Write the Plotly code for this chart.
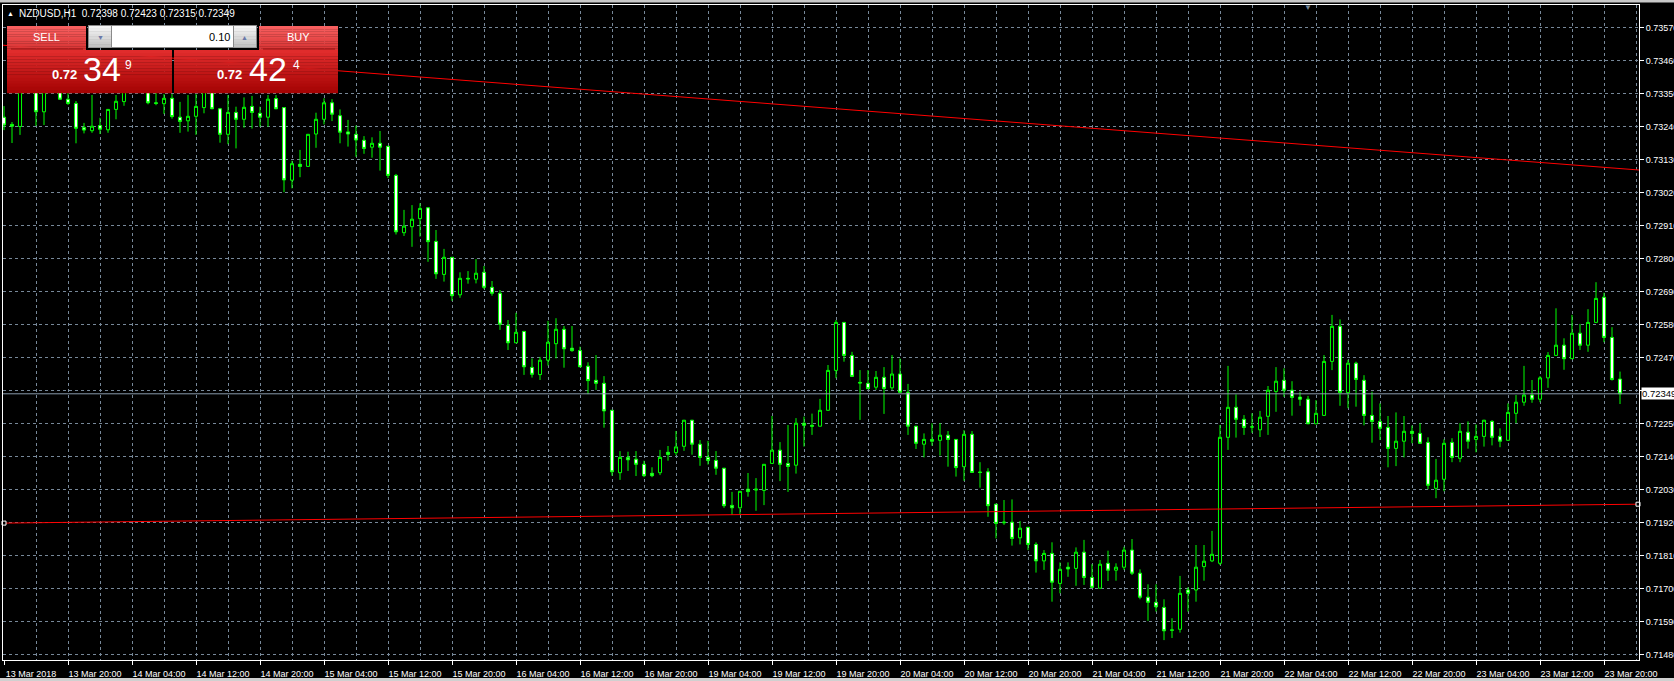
import plotly.graph_objects as go

# ---------------- data ----------------
symbol_header = "NZDUSD,H1&nbsp;&nbsp;0.72398 0.72423 0.72315 0.72349"

opens = [0.73271, 0.73247, 0.73240, 0.73369, 0.73385, 0.73289, 0.73375, 0.73385, 0.73331, 0.73317,
         0.73237, 0.73226, 0.73243, 0.73229, 0.73297, 0.73323, 0.73365, 0.73380, 0.73370, 0.73319,
         0.73316, 0.73334, 0.73271, 0.73259, 0.73274, 0.73303, 0.73360, 0.73299, 0.73214, 0.73287,
         0.73264, 0.73307, 0.73284, 0.73271, 0.73333, 0.73303, 0.73061, 0.73114, 0.73107, 0.73215,
         0.73264, 0.73319, 0.73276, 0.73222, 0.73214, 0.73194, 0.73171, 0.73184, 0.73174, 0.73077,
         0.72886, 0.72906, 0.72933, 0.72969, 0.72857, 0.72747, 0.72804, 0.72679, 0.72734, 0.72731,
         0.72754, 0.72704, 0.72684, 0.72577, 0.72519, 0.72557, 0.72437, 0.72413, 0.72461, 0.72516,
         0.72564, 0.72501, 0.72493, 0.72441, 0.72394, 0.72384, 0.72294, 0.72086, 0.72137, 0.72131,
         0.72114, 0.72084, 0.72086, 0.72154, 0.72153, 0.72174, 0.72261, 0.72181, 0.72137, 0.72127,
         0.72101, 0.71977, 0.71969, 0.72031, 0.72028, 0.72027, 0.72117, 0.72161, 0.72117, 0.72111,
         0.72251, 0.72244, 0.72241, 0.72294, 0.72427, 0.72587, 0.72477, 0.72387, 0.72384, 0.72371,
         0.72404, 0.72369, 0.72415, 0.72354, 0.72241, 0.72181, 0.72197, 0.72194, 0.72211, 0.72197,
         0.72106, 0.72214, 0.72088, 0.72089, 0.71981, 0.71919, 0.71921, 0.71869, 0.71904, 0.71847,
         0.71792, 0.71817, 0.71717, 0.71771, 0.71767, 0.71821, 0.71737, 0.71701, 0.71784, 0.71761,
         0.71771, 0.71828, 0.71751, 0.71671, 0.71654, 0.71637, 0.71562, 0.71564, 0.71695, 0.71695,
         0.71773, 0.71792, 0.71784, 0.72204, 0.72304, 0.72264, 0.72239, 0.72229, 0.72274, 0.72357,
         0.72394, 0.72361, 0.72338, 0.72331, 0.72249, 0.72277, 0.72457, 0.72574, 0.72353, 0.72451,
         0.72394, 0.72277, 0.72257, 0.72237, 0.72167, 0.72191, 0.72224, 0.72217, 0.72187, 0.72034,
         0.72064, 0.72187, 0.72134, 0.72221, 0.72197, 0.72207, 0.72257, 0.72207, 0.72194, 0.72284,
         0.72321, 0.72345, 0.72331, 0.72402, 0.72477, 0.72511, 0.72466, 0.72551, 0.72511, 0.72587,
         0.72671, 0.72537, 0.72398]

highs = [0.73308, 0.73255, 0.73389, 0.73400, 0.73400, 0.73395, 0.73410, 0.73400, 0.73352, 0.73325,
         0.73252, 0.73345, 0.73269, 0.73298, 0.73345, 0.73385, 0.73400, 0.73410, 0.73385, 0.73352,
         0.73348, 0.73348, 0.73322, 0.73345, 0.73348, 0.73375, 0.73370, 0.73302, 0.73345, 0.73306,
         0.73337, 0.73342, 0.73306, 0.73345, 0.73345, 0.73304, 0.73126, 0.73162, 0.73215, 0.73286,
         0.73334, 0.73331, 0.73297, 0.73262, 0.73243, 0.73208, 0.73204, 0.73225, 0.73175, 0.73082,
         0.72962, 0.72978, 0.72984, 0.72970, 0.72895, 0.72832, 0.72805, 0.72754, 0.72758, 0.72798,
         0.72775, 0.72725, 0.72695, 0.72595, 0.72619, 0.72558, 0.72467, 0.72472, 0.72592, 0.72601,
         0.72575, 0.72575, 0.72506, 0.72454, 0.72478, 0.72408, 0.72295, 0.72158, 0.72156, 0.72158,
         0.72126, 0.72104, 0.72162, 0.72175, 0.72225, 0.72261, 0.72262, 0.72195, 0.72192, 0.72158,
         0.72102, 0.72022, 0.72025, 0.72085, 0.72068, 0.72115, 0.72275, 0.72188, 0.72245, 0.72268,
         0.72273, 0.72283, 0.72332, 0.72445, 0.72595, 0.72588, 0.72489, 0.72428, 0.72428, 0.72425,
         0.72438, 0.72478, 0.72467, 0.72382, 0.72242, 0.72217, 0.72251, 0.72251, 0.72225, 0.72198,
         0.72228, 0.72225, 0.72121, 0.72101, 0.71982, 0.71995, 0.71997, 0.71925, 0.71905, 0.71854,
         0.71828, 0.71854, 0.71787, 0.71787, 0.71837, 0.71862, 0.71781, 0.71795, 0.71826, 0.71784,
         0.71839, 0.71865, 0.71764, 0.71714, 0.71714, 0.71664, 0.71601, 0.71742, 0.71704, 0.71845,
         0.71845, 0.71892, 0.72245, 0.72442, 0.72347, 0.72278, 0.72284, 0.72292, 0.72375, 0.72438,
         0.72434, 0.72391, 0.72356, 0.72342, 0.72328, 0.72478, 0.72612, 0.72597, 0.72462, 0.72456,
         0.72411, 0.72356, 0.72317, 0.72275, 0.72287, 0.72275, 0.72243, 0.72251, 0.72204, 0.72132,
         0.72197, 0.72201, 0.72251, 0.72257, 0.72247, 0.72262, 0.72261, 0.72234, 0.72317, 0.72345,
         0.72442, 0.72395, 0.72408, 0.72488, 0.72634, 0.72534, 0.72612, 0.72582, 0.72631, 0.72721,
         0.72686, 0.72571, 0.72423]

lows = [0.73228, 0.73185, 0.73212, 0.73355, 0.73242, 0.73245, 0.73360, 0.73330, 0.73312, 0.73184,
        0.73217, 0.73219, 0.73215, 0.73219, 0.73264, 0.73309, 0.73355, 0.73360, 0.73314, 0.73311,
        0.73282, 0.73266, 0.73219, 0.73223, 0.73212, 0.73284, 0.73298, 0.73186, 0.73181, 0.73167,
        0.73236, 0.73233, 0.73239, 0.73239, 0.73298, 0.73021, 0.73034, 0.73071, 0.73106, 0.73169,
        0.73247, 0.73258, 0.73184, 0.73173, 0.73139, 0.73149, 0.73136, 0.73093, 0.73068, 0.72880,
        0.72875, 0.72839, 0.72873, 0.72789, 0.72732, 0.72723, 0.72659, 0.72669, 0.72716, 0.72717,
        0.72698, 0.72676, 0.72562, 0.72495, 0.72518, 0.72412, 0.72403, 0.72395, 0.72443, 0.72467,
        0.72436, 0.72489, 0.72438, 0.72348, 0.72362, 0.72236, 0.72076, 0.72062, 0.72092, 0.72075,
        0.72071, 0.72071, 0.72078, 0.72126, 0.72144, 0.72159, 0.72146, 0.72109, 0.72113, 0.72079,
        0.71969, 0.71945, 0.71947, 0.72006, 0.71959, 0.71978, 0.72117, 0.72058, 0.72022, 0.72083,
        0.72173, 0.72212, 0.72240, 0.72293, 0.72401, 0.72456, 0.72407, 0.72262, 0.72365, 0.72362,
        0.72282, 0.72362, 0.72353, 0.72212, 0.72165, 0.72137, 0.72176, 0.72143, 0.72106, 0.72073,
        0.72059, 0.72087, 0.72036, 0.71939, 0.71867, 0.71912, 0.71843, 0.71847, 0.71828, 0.71753,
        0.71762, 0.71656, 0.71684, 0.71739, 0.71709, 0.71712, 0.71702, 0.71700, 0.71725, 0.71726,
        0.71762, 0.71745, 0.71664, 0.71592, 0.71623, 0.71528, 0.71535, 0.71553, 0.71623, 0.71656,
        0.71726, 0.71788, 0.71778, 0.72162, 0.72203, 0.72212, 0.72219, 0.72205, 0.72212, 0.72289,
        0.72339, 0.72276, 0.72309, 0.72248, 0.72248, 0.72275, 0.72428, 0.72309, 0.72301, 0.72306,
        0.72244, 0.72186, 0.72195, 0.72104, 0.72108, 0.72137, 0.72184, 0.72182, 0.72031, 0.72001,
        0.72024, 0.72121, 0.72121, 0.72166, 0.72154, 0.72173, 0.72177, 0.72171, 0.72193, 0.72251,
        0.72309, 0.72319, 0.72321, 0.72369, 0.72477, 0.72429, 0.72465, 0.72495, 0.72489, 0.72587,
        0.72521, 0.72393, 0.72315]

closes = [0.73245, 0.73241, 0.73369, 0.73380, 0.73289, 0.73375, 0.73390, 0.73331, 0.73317, 0.73234,
          0.73228, 0.73241, 0.73231, 0.73297, 0.73324, 0.73365, 0.73380, 0.73372, 0.73319, 0.73317,
          0.73334, 0.73273, 0.73257, 0.73274, 0.73307, 0.73360, 0.73299, 0.73214, 0.73287, 0.73264,
          0.73304, 0.73287, 0.73271, 0.73331, 0.73299, 0.73062, 0.73116, 0.73107, 0.73214, 0.73264,
          0.73319, 0.73281, 0.73221, 0.73215, 0.73195, 0.73167, 0.73184, 0.73171, 0.73077, 0.72889,
          0.72908, 0.72931, 0.72967, 0.72856, 0.72749, 0.72804, 0.72676, 0.72734, 0.72732, 0.72751,
          0.72704, 0.72684, 0.72581, 0.72519, 0.72554, 0.72439, 0.72414, 0.72461, 0.72521, 0.72564,
          0.72499, 0.72493, 0.72439, 0.72393, 0.72384, 0.72292, 0.72089, 0.72137, 0.72129, 0.72114,
          0.72076, 0.72076, 0.72137, 0.72147, 0.72172, 0.72261, 0.72181, 0.72137, 0.72127, 0.72101,
          0.71976, 0.71969, 0.72024, 0.72023, 0.72031, 0.72114, 0.72161, 0.72114, 0.72107, 0.72251,
          0.72244, 0.72241, 0.72294, 0.72427, 0.72587, 0.72477, 0.72407, 0.72385, 0.72366, 0.72404,
          0.72367, 0.72415, 0.72354, 0.72241, 0.72184, 0.72197, 0.72191, 0.72211, 0.72197, 0.72103,
          0.72214, 0.72087, 0.72087, 0.71976, 0.71917, 0.71921, 0.71867, 0.71901, 0.71847, 0.71792,
          0.71817, 0.71721, 0.71764, 0.71765, 0.71821, 0.71737, 0.71704, 0.71781, 0.71761, 0.71771,
          0.71828, 0.71751, 0.71671, 0.71654, 0.71639, 0.71559, 0.71561, 0.71684, 0.71684, 0.71771,
          0.71791, 0.71814, 0.72204, 0.72304, 0.72264, 0.72237, 0.72238, 0.72271, 0.72361, 0.72391,
          0.72361, 0.72337, 0.72331, 0.72249, 0.72284, 0.72457, 0.72574, 0.72353, 0.72451, 0.72397,
          0.72277, 0.72257, 0.72234, 0.72167, 0.72191, 0.72224, 0.72217, 0.72184, 0.72044, 0.72061,
          0.72184, 0.72137, 0.72224, 0.72191, 0.72207, 0.72261, 0.72204, 0.72191, 0.72287, 0.72321,
          0.72345, 0.72331, 0.72402, 0.72477, 0.72511, 0.72466, 0.72551, 0.72511, 0.72587, 0.72667,
          0.72537, 0.72397, 0.72349]

time_tick_bars = [0, 8, 16, 24, 32, 40, 48, 56, 64, 72, 80, 88, 96, 104, 112, 120, 128,
                  136, 144, 152, 160, 168, 176, 184, 192, 200]
time_tick_labels = ["13 Mar 2018", "13 Mar 20:00", "14 Mar 04:00", "14 Mar 12:00", "14 Mar 20:00",
                    "15 Mar 04:00", "15 Mar 12:00", "15 Mar 20:00", "16 Mar 04:00", "16 Mar 12:00",
                    "16 Mar 20:00", "19 Mar 04:00", "19 Mar 12:00", "19 Mar 20:00", "20 Mar 04:00",
                    "20 Mar 12:00", "20 Mar 20:00", "21 Mar 04:00", "21 Mar 12:00", "21 Mar 20:00",
                    "22 Mar 04:00", "22 Mar 12:00", "22 Mar 20:00", "23 Mar 04:00", "23 Mar 12:00",
                    "23 Mar 20:00"]

price_ticks = [0.7357, 0.7346, 0.7335, 0.7324, 0.7313, 0.7302, 0.7291, 0.7280, 0.7269, 0.7258,
               0.7247, 0.7236, 0.7225, 0.7214, 0.7203, 0.7192, 0.7181, 0.7170, 0.7159, 0.7148]
# the 0.72360 label is hidden behind the current-price label in the original
price_tick_labels = ["0.73570", "0.73460", "0.73350", "0.73240", "0.73130", "0.73020", "0.72910",
                     "0.72800", "0.72690", "0.72580", "0.72470", "", "0.72250", "0.72140",
                     "0.72030", "0.71920", "0.71810", "0.71700", "0.71590", "0.71480"]

upper_trend_bars = [-0.125, 204.375]
upper_trend_prices = [0.73511, 0.73095]
lower_trend_bars = [0.0, 204.25]
lower_trend_prices = [0.71918, 0.71981]
current_price = 0.72349
current_price_label = "0.72349"

sell_big, sell_small, sell_pip = "0.72", "34", "9"
buy_big, buy_small, buy_pip = "0.72", "42", "4"
lot_size = "0.10"

# ---------------- geometry / style ----------------
W, H = 1674, 681
ML, MR, MT, MB = 3, 35, 5, 21
PW, PH = W - ML - MR, H - MT - MB
FONT = "Liberation Sans, Arial, sans-serif"
GRID = "#778899"
LIME = "#00ff00"


def px(x):
    return (x - ML) / PW


def py(y):
    return 1 - (y - MT) / PH


def mix(c0, c1, t):
    a = [int(c0[i:i + 2], 16) for i in (1, 3, 5)]
    b = [int(c1[i:i + 2], 16) for i in (1, 3, 5)]
    return "#" + "".join("%02x" % round(a[k] + (b[k] - a[k]) * t) for k in range(3))


shapes = []


def rect(x0, y0, x1, y1, fill, line=None, lw=0):
    shapes.append(dict(type="rect", xref="paper", yref="paper", layer="above",
                       x0=px(x0), x1=px(x1), y0=py(y0), y1=py(y1), fillcolor=fill,
                       line=dict(width=lw, color=line or fill)))


def grad_rect(x0, y0, x1, y1, c0, c1, n=14):
    h = (y1 - y0) / n
    for k in range(n):
        rect(x0, y0 + k * h, x1, y0 + (k + 1) * h + 0.3, mix(c0, c1, k / (n - 1)))


def hline(x0, x1, y, color, w=1):
    shapes.append(dict(type="line", xref="paper", yref="paper", layer="above",
                       x0=px(x0), x1=px(x1), y0=py(y), y1=py(y), line=dict(color=color, width=w)))


fig = go.Figure()

# trend lines and current price line (drawn under the candles)
fig.add_trace(go.Scatter(x=upper_trend_bars, y=upper_trend_prices, mode="lines",
                         line=dict(color="#ff0000", width=1), hoverinfo="skip", showlegend=False))
fig.add_trace(go.Scatter(x=lower_trend_bars, y=lower_trend_prices, mode="lines",
                         line=dict(color="#ff0000", width=1), hoverinfo="skip", showlegend=False))
fig.add_trace(go.Scatter(x=[-0.125, 204.375], y=[current_price, current_price], mode="lines",
                         line=dict(color="#8899aa", width=1), hoverinfo="skip", showlegend=False))
fig.add_trace(go.Scatter(x=lower_trend_bars, y=lower_trend_prices,
                         mode="markers", marker=dict(symbol="square", size=4, color="#000000",
                                                     line=dict(color="#ffffff", width=1)),
                         hoverinfo="skip", showlegend=False, cliponaxis=False))

fig.add_trace(go.Candlestick(
    x=list(range(len(opens))), open=opens, high=highs, low=lows, close=closes,
    increasing=dict(line=dict(color=LIME, width=1), fillcolor="#000000"),
    decreasing=dict(line=dict(color=LIME, width=1), fillcolor="#ffffff"),
    whiskerwidth=0, showlegend=False, hoverinfo="skip"))

# ---------------- one-click trading panel ----------------
grad_rect(7, 26, 86, 50, "#f86060", "#d83434")
hline(11, 83, 49, "#9a1010")
grad_rect(259, 26, 338, 50, "#f86060", "#d83434")
hline(263, 335, 49, "#9a1010")
rect(88, 25, 257, 48, "#8a8a8a")
grad_rect(89, 26, 111, 47, "#f4f4f4", "#c4c4c4", n=8)
rect(112, 26, 233, 47, "#ffffff")
grad_rect(234, 26, 256, 47, "#f4f4f4", "#c4c4c4", n=8)
grad_rect(7, 50, 172, 93, "#e02c2c", "#a60404")
grad_rect(174, 50, 338, 93, "#e02c2c", "#a60404")

# grey window strips
rect(-5, -5, W + 5, 2.5, "#c8c8c8")
rect(-5, 678, W + 5, H + 5, "#d0d0d0")

annotations = []


def text(x, y, s, size, color="#ffffff", xanchor="left", bold=False):
    annotations.append(dict(xref="paper", yref="paper", x=px(x), y=py(y),
                            text=("<b>%s</b>" % s) if bold else s,
                            showarrow=False, xanchor=xanchor, yanchor="middle",
                            font=dict(size=size, color=color, family=FONT)))


text(5, 13, "▲", 7)
text(17, 13, symbol_header, 10)
text(46, 37, "SELL", 11, xanchor="center")
text(298, 37, "BUY", 11, xanchor="center")
text(232, 37, lot_size, 11, color="#000000", xanchor="right")
text(100, 37, "▼", 7, color="#6a78a8", xanchor="center")
text(245, 37, "▲", 7, color="#6a78a8", xanchor="center")
text(50, 75, sell_big, 13, bold=True)
text(81, 69, sell_small, 34)
text(123, 65, sell_pip, 12)
text(215, 75, buy_big, 13, bold=True)
text(247, 69, buy_small, 34)
text(291, 65, buy_pip, 12)

annotations.append(dict(xref="paper", yref="y", x=px(1641), y=current_price, text=current_price_label,
                        showarrow=False, xanchor="left", yanchor="middle", bgcolor="#ffffff",
                        borderpad=0, font=dict(size=9.5, color="#000000", family=FONT)))
annotations.append(dict(xref="paper", yref="paper", x=px(1308), y=py(7), text="▼", showarrow=False,
                        xanchor="center", yanchor="middle", font=dict(size=8, color="#778899")))

fig.update_layout(
    template="none",
    width=W, height=H, margin=dict(l=ML, r=MR, t=MT, b=MB, pad=0, autoexpand=False),
    paper_bgcolor="#000000", plot_bgcolor="#000000",
    boxgap=0.45, showlegend=False,
    font=dict(family=FONT, size=9, color="#ffffff"),
    xaxis=dict(range=[-0.125, 204.375], rangeslider=dict(visible=False), automargin=False,
               tickmode="array", tickvals=time_tick_bars, ticktext=time_tick_labels,
               ticks="outside", ticklen=4, tickcolor="#ffffff", tickwidth=1,
               ticklabelshift=27, ticklabelstandoff=1,
               showgrid=False, zeroline=False,
               showline=True, linecolor="#ffffff", linewidth=1, mirror=True,
               minor=dict(tickmode="array", tickvals=list(range(0, 205, 4)), showgrid=True,
                          gridcolor=GRID, griddash="3px,3px", gridwidth=1, ticks=""),
               tickfont=dict(size=9, color="#ffffff", family=FONT)),
    yaxis=dict(range=[0.7146167, 0.7364500], side="right", automargin=False,
               tickmode="array", tickvals=price_ticks, ticktext=price_tick_labels,
               ticks="outside", ticklen=4, tickcolor="#ffffff", tickwidth=1,
               showgrid=True, gridcolor=GRID, griddash="3px,3px", gridwidth=1, zeroline=False,
               showline=True, linecolor="#ffffff", linewidth=1, mirror=True,
               tickfont=dict(size=9, color="#ffffff", family=FONT)),
    shapes=shapes, annotations=annotations,
)

fig.write_html("out.html", config={"displayModeBar": False},
               post_script="document.body.style.margin='0';document.body.style.overflow='hidden';"
                           "document.documentElement.style.overflow='hidden';")
